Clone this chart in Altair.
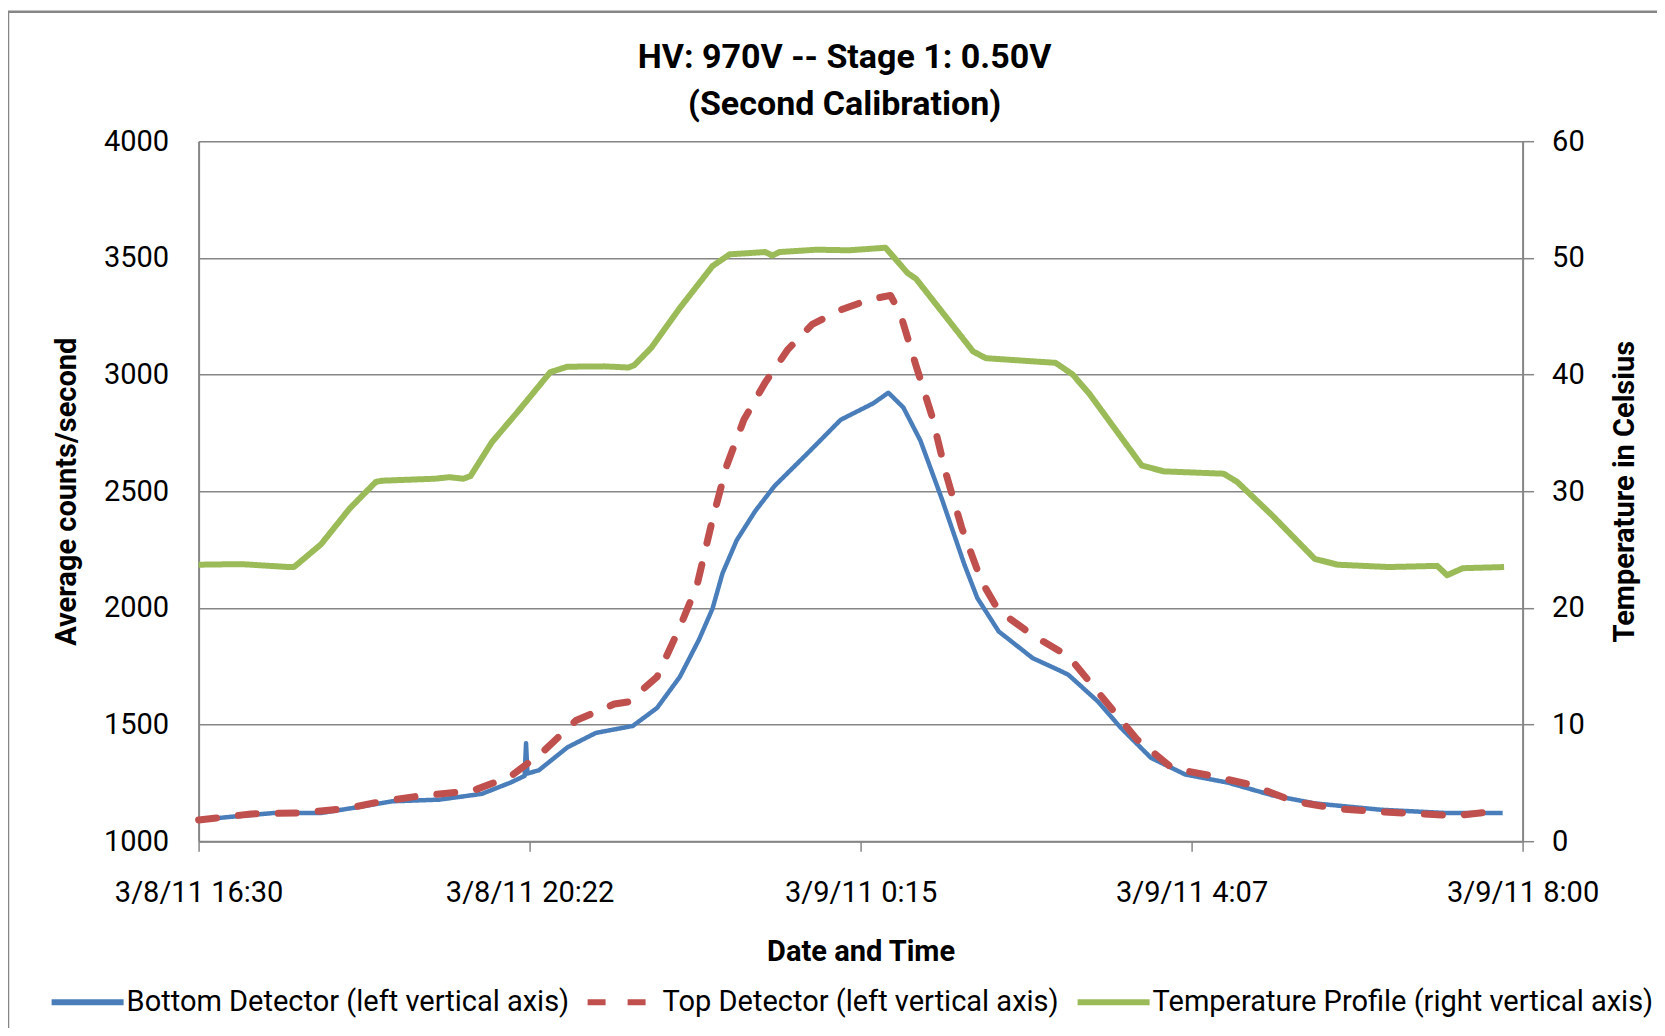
import json
import altair as alt
import pandas as pd

# ---------------- data ----------------
series_names = [
    "Bottom Detector (left vertical axis)",
    "Top Detector (left vertical axis)",
    "Temperature Profile (right vertical axis)",
]
series_colors = ["#4A7EBB", "#C0504D", "#9BBB59"]

# minutes after 3/8/11 16:30
bottom_minutes = [0, 20, 53, 86, 110, 136, 169, 199, 219, 229, 230, 231, 239, 259, 279, 305,
                  322, 338, 351.5, 361, 368, 378, 391, 404.5, 428, 451, 474, 484.5,
                  495, 507, 522, 538, 547, 562, 586, 605, 611, 632, 647, 669, 693, 723,
                  754, 784, 830, 876, 916]
bottom_counts = [1091, 1103, 1121, 1121, 1144, 1171, 1178, 1203, 1251, 1280, 1420, 1290, 1304,
                 1402, 1464, 1494, 1571, 1704, 1864, 1997, 2148, 2290, 2415, 2522, 2664, 2806,
                 2877, 2922, 2859, 2717, 2468, 2184, 2042, 1899, 1784, 1731, 1713, 1597, 1491,
                 1357, 1286, 1251, 1197, 1162, 1135, 1121, 1121]

top_minutes = [0, 37, 70, 103, 129, 159, 192, 219, 242, 265, 292, 302, 322, 338, 350, 361,
               371, 383, 398, 414, 431, 451, 471, 486, 493, 504, 515, 525, 536, 550, 562,
               586, 611, 635, 659, 684, 714, 739, 769, 800, 830, 860, 882, 916]
top_counts = [1091, 1117, 1121, 1139, 1171, 1197, 1215, 1277, 1384, 1517, 1588, 1597, 1704,
              1917, 2095, 2379, 2610, 2806, 2966, 3108, 3215, 3277, 3321, 3339, 3259, 3037,
              2824, 2575, 2344, 2113, 1988, 1882, 1793, 1615, 1437, 1313, 1277, 1242, 1171,
              1139, 1126, 1117, 1109, 1132]

temp_minutes = [0, 30, 63, 67, 86, 106, 124.5, 129, 166, 176, 186, 191, 206, 225.5, 247, 259,
                285, 302, 306, 318, 338, 361, 373, 398, 403, 408, 434, 457, 482.5, 498, 504,
                544, 553, 602, 614, 626, 662.5, 678, 720, 729.5, 754, 784, 800, 836, 870,
                877, 888, 917]
temp_celsius = [23.7, 23.75, 23.5, 23.5, 25.45, 28.5, 30.8, 30.9, 31.07, 31.2, 31.07, 31.3,
                34.2, 37.0, 40.2, 40.67, 40.7, 40.6, 40.8, 42.3, 45.7, 49.3, 50.3, 50.5, 50.2,
                50.5, 50.7, 50.65, 50.87, 48.7, 48.2, 41.98, 41.4, 41.0, 40.0, 38.3, 32.2,
                31.7, 31.5, 30.8, 27.94, 24.2, 23.7, 23.5, 23.6, 22.8, 23.4, 23.5]

x_tick_minutes = [0, 232.5, 465, 697.5, 930]
x_tick_labels = ["3/8/11 16:30", "3/8/11 20:22", "3/9/11 0:15", "3/9/11 4:07", "3/9/11 8:00"]
left_ticks = [1000, 1500, 2000, 2500, 3000, 3500, 4000]
right_ticks = [0, 10, 20, 30, 40, 50, 60]

df_bottom = pd.DataFrame({"minutes": bottom_minutes, "value": bottom_counts, "series": series_names[0]})
df_top = pd.DataFrame({"minutes": top_minutes, "value": top_counts, "series": series_names[1]})
df_temp = pd.DataFrame({"minutes": temp_minutes, "value": temp_celsius, "series": series_names[2]})

# ---------------- style ----------------
FONT = "Roboto"
GRAY = "#868686"
FS = 29

label_expr = json.dumps(x_tick_labels) + "[round(datum.value / 232.5)]"

x_enc = alt.X(
    "minutes:Q",
    scale=alt.Scale(domain=[0, 930], nice=False, zero=False),
    axis=alt.Axis(
        values=x_tick_minutes, labelExpr=label_expr, title="Date and Time",
        grid=False, ticks=True, tickSize=10, tickColor=GRAY, tickWidth=1.5,
        domainColor=GRAY, domainWidth=2, labelFontSize=FS, labelFont=FONT,
        labelColor="black", labelPadding=27, labelFlush=False, labelOverlap=False,
        titleFont=FONT, titleFontSize=FS, titleFontWeight="bold", titleColor="black",
        titleBaseline="middle", titleY=110,
    ),
)

left_axis = alt.Axis(
    values=left_ticks, format="d", title="Average counts/second", grid=True, gridColor=GRAY,
    gridWidth=1.5, ticks=False, domainColor=GRAY, domainWidth=2, labelFontSize=FS,
    labelFont=FONT, labelColor="black", labelPadding=30, labelFlush=False,
    titleFont=FONT, titleFontSize=FS, titleFontWeight="bold", titleColor="black",
    titleAngle=270, titleBaseline="middle", titleAlign="center", titleX=-132, titleY=350,
)
right_axis = alt.Axis(
    values=right_ticks, format="d", title="Temperature in Celsius", orient="right", grid=False,
    ticks=True, tickSize=11, tickColor=GRAY, tickWidth=1.5, domainColor=GRAY, domainWidth=2,
    labelFontSize=FS, labelFont=FONT, labelColor="black", labelPadding=18, labelFlush=False,
    titleFont=FONT, titleFontSize=FS, titleFontWeight="bold", titleColor="black",
    titleAngle=270, titleBaseline="middle", titleAlign="center", titleX=102, titleY=350,
)

legend = alt.Legend(
    title=None, orient="none", legendX=-150, legendY=822, direction="horizontal",
    symbolType="stroke", symbolSize=5184, symbolStrokeWidth=6, labelFontSize=FS,
    labelFont=FONT, labelColor="black", labelOffset=0, columnPadding=6, labelLimit=0,
    padding=0, gridAlign="none",
)
color_enc = alt.Color("series:N", scale=alt.Scale(domain=series_names, range=series_colors), legend=legend)
dash_enc = alt.StrokeDash("series:N", scale=alt.Scale(domain=series_names, range=[[1, 0], [18, 22], [1, 0]]), legend=legend)

y_left = alt.Y("value:Q", scale=alt.Scale(domain=[1000, 4000], nice=False, zero=False), axis=left_axis)
y_right = alt.Y("value:Q", scale=alt.Scale(domain=[0, 60], nice=False, zero=True), axis=right_axis)

bottom_line = alt.Chart(df_bottom).mark_line(strokeWidth=4.5, strokeJoin="round").encode(
    x=x_enc, y=y_left, color=color_enc, strokeDash=dash_enc, order="minutes:Q")
top_line = alt.Chart(df_top).mark_line(strokeWidth=7, strokeCap="round", strokeJoin="round").encode(
    x=x_enc, y=y_left, color=color_enc, strokeDash=dash_enc, order="minutes:Q")
temp_line = alt.Chart(df_temp).mark_line(strokeWidth=6, strokeJoin="round").encode(
    x=x_enc, y=y_right, color=color_enc, strokeDash=dash_enc, order="minutes:Q")

# outer chart-area frame (Excel style border)
frame = alt.Chart(pd.DataFrame({"frame": [0]})).mark_rect(
    filled=False, stroke=GRAY, strokeWidth=2.5
).encode(
    x=alt.value(-190.6), x2=alt.value(1600), y=alt.value(-129.5), y2=alt.value(1000)
)

left_layer = alt.layer(bottom_line, top_line)

chart = alt.layer(frame, left_layer, temp_line).resolve_scale(y="independent").properties(
    width=1324,
    height=700,
    autosize=alt.AutoSizeParams(type="none"),
    padding={"left": 190.6, "top": 133.2, "right": 134.4, "bottom": 186.8},
    title=alt.TitleParams(
        text=["HV: 970V -- Stage 1: 0.50V", "(Second Calibration)"],
        fontSize=34, fontWeight="bold", font=FONT, color="black", anchor="middle",
        dx=-16, lineHeight=47, baseline="alphabetic", offset=-139,
    ),
).configure_view(stroke=None).configure(font=FONT, background="white")

chart.save("out.html", embed_options={"renderer": "svg", "actions": False})
